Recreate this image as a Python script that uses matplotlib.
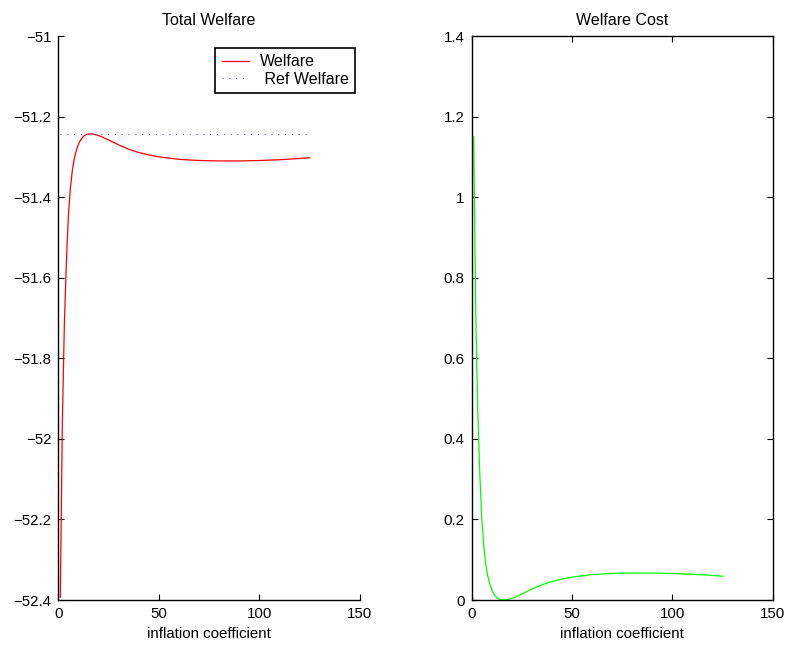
import matplotlib
matplotlib.use("Agg")
import matplotlib.pyplot as plt

plt.rcParams['font.family'] = ['Liberation Sans', 'DejaVu Sans']
plt.rcParams['font.size'] = 10.8
plt.rcParams['axes.unicode_minus'] = True

# inflation coefficient grid
coef = [1, 2, 3, 4, 5, 6, 7, 8, 9, 10, 11, 12, 13, 14, 15, 16, 17, 18,
        20, 22, 25, 30, 35, 40, 45, 50, 55, 60, 70, 80, 90, 100, 110, 120, 125]

welfare = [-52.393, -51.963, -51.718, -51.563, -51.448, -51.378, -51.333,
           -51.303, -51.283, -51.269, -51.259, -51.252, -51.247, -51.2445,
           -51.2433, -51.243, -51.2433, -51.2442, -51.247, -51.251, -51.258,
           -51.270, -51.281, -51.289, -51.295, -51.300, -51.303, -51.306,
           -51.309, -51.310, -51.310, -51.309, -51.307, -51.304, -51.302]

ref_welfare = -51.243

cost = [1.150, 0.720, 0.475, 0.320, 0.205, 0.135, 0.090, 0.060, 0.040,
        0.026, 0.016, 0.009, 0.004, 0.0015, 0.0003, 0.0, 0.0003, 0.0012,
        0.004, 0.008, 0.015, 0.027, 0.038, 0.046, 0.052, 0.057, 0.060,
        0.063, 0.066, 0.067, 0.067, 0.066, 0.064, 0.061, 0.059]

xticks = [0, 50, 100, 150]
yticks_left = [-51, -51.2, -51.4, -51.6, -51.8, -52, -52.2, -52.4]
yticks_right = [0, 0.2, 0.4, 0.6, 0.8, 1, 1.2, 1.4]


def fmt(v):
    return ('%g' % v).replace('-', '\u2212')


fig = plt.figure(figsize=(7.91, 6.47), dpi=100)
ax1 = fig.add_axes([0.0737, 0.0726, 0.3814, 0.8717])
ax2 = fig.add_axes([0.5963, 0.0726, 0.3805, 0.8717])

# left: total welfare against the reference level
ax1.plot(coef, welfare, color='#ff0000', lw=0.9, label='Welfare')
ax1.plot(coef, [ref_welfare] * len(coef), color='#3030ff', lw=0.7,
         ls=(0, (1, 6)), label=' Ref Welfare')
ax1.set_xlim(0, 150)
ax1.set_ylim(-52.4, -51)
ax1.set_xticks(xticks)
ax1.set_xticklabels([fmt(v) for v in xticks])
ax1.set_yticks(yticks_left)
ax1.set_yticklabels([fmt(v) for v in yticks_left])
ax1.spines['top'].set_visible(False)
ax1.spines['right'].set_visible(False)
ax1.tick_params(direction='in', length=4, width=0.8, pad=5)
ax1.set_title('Total Welfare', fontsize=11.5, pad=8)
ax1.set_xlabel('inflation coefficient', labelpad=4)
leg = ax1.legend(loc='upper right', bbox_to_anchor=(0.984, 0.979),
                 borderaxespad=0, fancybox=False, framealpha=1,
                 edgecolor='black', handlelength=1.7, handletextpad=0.7,
                 labelspacing=0.15, borderpad=0.4, fontsize=11.5)
leg.get_frame().set_linewidth(1.2)

# right: welfare cost
ax2.plot(coef, cost, color='#00ff00', lw=0.9)
ax2.set_xlim(0, 150)
ax2.set_ylim(0, 1.4)
ax2.set_xticks(xticks)
ax2.set_xticklabels([fmt(v) for v in xticks])
ax2.set_yticks(yticks_right)
ax2.set_yticklabels([fmt(v) for v in yticks_right])
ax2.tick_params(direction='in', length=4, width=0.8, pad=5,
                top=True, right=True)
ax2.set_title('Welfare Cost', fontsize=11.5, pad=8)
ax2.set_xlabel('inflation coefficient', labelpad=4)

for ax in (ax1, ax2):
    for s in ax.spines.values():
        s.set_linewidth(1.0)

fig.savefig('out.png', dpi=100)
